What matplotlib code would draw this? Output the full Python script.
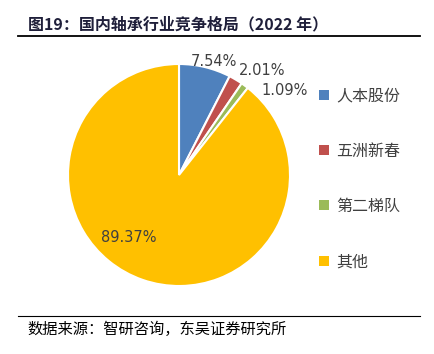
import matplotlib
matplotlib.use("Agg")
import matplotlib.pyplot as plt
import numpy as np

plt.rcParams['font.family'] = ['Noto Sans CJK SC', 'DejaVu Sans']

# 数据
names = ["人本股份", "五洲新春", "第二梯队", "其他"]
shares = [7.54, 2.01, 1.09, 89.37]
colors = ["#4F81BD", "#C0504D", "#9BBB59", "#FFC000"]
# 标签位置（相对饼图半径的极坐标：角度, 半径）
label_pos = [(73, 1.065), (51.5, 1.2), (38.5, 1.22), (231, 0.72)]

fig = plt.figure(figsize=(4.35, 3.54), dpi=100)

# 标题与分隔线
fig.text(28 / 435, 1 - 24 / 354, "图19：国内轴承行业竞争格局（2022 年）",
         fontsize=11.5, fontweight="bold", color="#1f1f3a", va="center", ha="left")
fig.add_artist(plt.Line2D([18 / 435, 420 / 435], [1 - 36 / 354, 1 - 36 / 354],
                          color="black", lw=1.3))
fig.add_artist(plt.Line2D([18 / 435, 420 / 435], [1 - 316 / 354, 1 - 316 / 354],
                          color="black", lw=0.8))
fig.text(27 / 435, 1 - 329 / 354, "数据来源：智研咨询，东吴证券研究所",
         fontsize=11, fontweight="light", color="black", va="center", ha="left")

# 饼图
r = 111
cx, cy = 179, 175
ax = fig.add_axes([(cx - r) / 435, (354 - cy - r) / 354, 2 * r / 435, 2 * r / 354])
wedges, _ = ax.pie(shares, colors=colors, startangle=90, counterclock=False,
                   radius=1, wedgeprops=dict(edgecolor="white", linewidth=1.5))
ax.set_xlim(-1, 1)
ax.set_ylim(-1, 1)
ax.set_aspect("auto")
ax.axis("off")

for s, (ang, rr) in zip(shares, label_pos):
    a = np.deg2rad(ang)
    ax.text(rr * np.cos(a), rr * np.sin(a), f"{s:.2f}%", fontsize=10.5,
            color="#404040", ha="center", va="center", family=["DejaVu Sans"])

leg = fig.legend(wedges, names, loc="upper left",
                 bbox_to_anchor=(305 / 435, 1 - 73 / 354), frameon=False,
                 fontsize=11.5, labelspacing=2.4, handlelength=0.6,
                 handleheight=0.6, handletextpad=0.45, labelcolor="#404040")
for h in leg.legend_handles:
    h.set_edgecolor("none")

fig.savefig("out.png", dpi=100)
